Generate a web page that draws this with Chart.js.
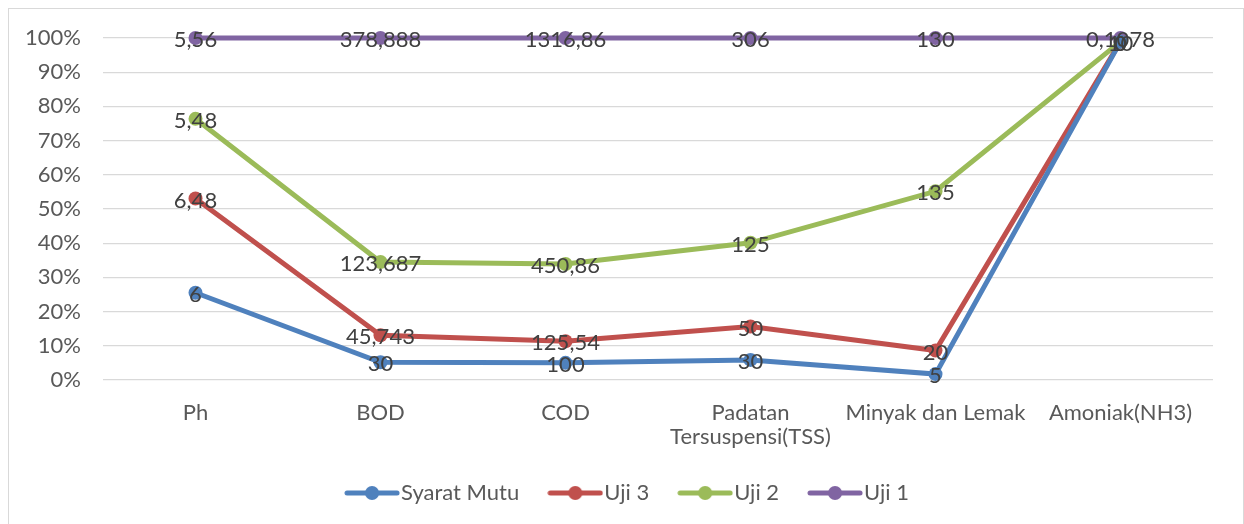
<!DOCTYPE html>
<html>
<head>
<meta charset="utf-8">
<script src="https://cdn.jsdelivr.net/npm/chart.js@4"></script>
<style>
  html, body { margin: 0; padding: 0; background: #fff; }
  #wrap { position: relative; width: 1244px; height: 524px; overflow: hidden; }
  #frame { position: absolute; left: 8px; top: 8px; width: 1234px; height: 530px; border: 1px solid #d9d9d9; pointer-events: none; }
  canvas { position: absolute; left: 0; top: 0; }
</style>
</head>
<body>
<div id="wrap">
  <canvas id="chart" width="1244" height="524"></canvas>
  <div id="frame"></div>
</div>
<script>
const categories = ["Ph", "BOD", "COD", ["Padatan", "Tersuspensi(TSS)"], "Minyak dan Lemak", "Amoniak(NH3)"];
const syaratMutu = [6, 30, 100, 30, 5, 10];
const uji3 = [6.48, 45.743, 125.54, 50, 20, 0];
const uji2 = [5.48, 123.687, 450.86, 125, 135, 0];
const uji1 = [5.56, 378.888, 1316.86, 306, 130, 0.1078];

const seriesNames = ["Syarat Mutu", "Uji 3", "Uji 2", "Uji 1"];
const seriesColors = ["#4f81bd", "#c0504d", "#9bbb59", "#8064a2"];
const allSeries = [syaratMutu, uji3, uji2, uji1];

// 100% stacked: share of each category total
const totals = categories.map((c, i) => allSeries.reduce((s, arr) => s + arr[i], 0));
const shares = allSeries.map(arr => arr.map((v, i) => v / totals[i] * 100));

const FONT = "Lato, 'Open Sans', sans-serif";

function legendIcon(color) {
    const c = document.createElement("canvas");
    c.width = 56;
    c.height = 16;
    const x = c.getContext("2d");
    x.strokeStyle = color;
    x.lineWidth = 5;
    x.lineCap = "round";
    x.beginPath();
    x.moveTo(3, 8);
    x.lineTo(53, 8);
    x.stroke();
    x.fillStyle = color;
    x.beginPath();
    x.arc(28, 8, 7, 0, Math.PI * 2);
    x.fill();
    return c;
}

const valueLabels = {
    id: "valueLabels",
    afterDatasetsDraw(chart) {
        const ctx = chart.ctx;
        ctx.save();
        ctx.font = "22px " + FONT;
        ctx.fillStyle = "#404040";
        ctx.textAlign = "center";
        ctx.textBaseline = "middle";
        chart.data.datasets.forEach((ds, di) => {
            const meta = chart.getDatasetMeta(di);
            meta.data.forEach((pt, i) => {
                const txt = String(allSeries[di][i]).replace(".", ",");
                ctx.fillText(txt, pt.x, pt.y + 2);
            });
        });
        ctx.restore();
    }
};

// axis labels are clipped to their box; widen the boxes after layout
const roomForLabels = {
    id: "roomForLabels",
    afterLayout(chart) {
        chart.scales.x.bottom += 16;
        chart.scales.y.left = 0;
    }
};

new Chart(document.getElementById("chart"), {
    type: "line",
    data: {
        labels: categories,
        datasets: seriesNames.map((name, i) => ({
            label: name,
            data: shares[i],
            borderColor: seriesColors[i],
            backgroundColor: seriesColors[i],
            borderWidth: 5,
            pointRadius: 7,
            pointBorderWidth: 0,
            pointStyle: "circle",
            tension: 0,
            clip: false,
            fill: false
        }))
    },
    options: {
        responsive: false,
        animation: false,
        layout: { padding: { top: 38, right: 31, bottom: 10, left: 50 } },
        scales: {
            x: {
                offset: true,
                grid: { display: false },
                border: { display: false },
                ticks: {
                    color: "#595959",
                    font: { family: FONT, size: 22, lineHeight: 1.1 },
                    padding: 13,
                    maxRotation: 0,
                    autoSkip: false
                },
                afterFit(s) { s.height = 64; }
            },
            y: {
                stacked: true,
                min: 0,
                max: 100,
                grid: { color: "#d9d9d9", lineWidth: 1.3, drawTicks: false },
                border: { display: false },
                ticks: {
                    stepSize: 10,
                    color: "#595959",
                    font: { family: FONT, size: 22 },
                    padding: 22,
                    callback: v => v + "%"
                },
                afterFit(s) { s.width = 53; }
            }
        },
        plugins: {
            tooltip: { enabled: false },
            legend: {
                position: "bottom",
                labels: {
                    color: "#595959",
                    font: { family: FONT, size: 22 },
                    usePointStyle: true,
                    pointStyleWidth: 36,
                    padding: 38,
                    generateLabels(chart) {
                        return chart.data.datasets.map((ds, i) => ({
                            text: ds.label,
                            pointStyle: legendIcon(seriesColors[i]),
                            fillStyle: seriesColors[i],
                            strokeStyle: seriesColors[i],
                            lineWidth: 0,
                            fontColor: "#595959",
                            hidden: false,
                            datasetIndex: i
                        }));
                    }
                }
            }
        }
    },
    plugins: [valueLabels, roomForLabels]
});
</script>
</body>
</html>
